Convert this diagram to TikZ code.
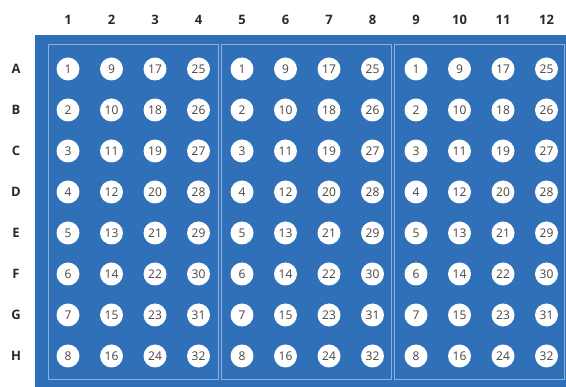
\documentclass[tikz,border=0pt]{standalone}
\usepackage{fontspec}
\setmainfont{Open Sans}

\definecolor{plateblue}{HTML}{2F70B8}
\definecolor{frameline}{HTML}{8DB0DC}
\definecolor{labeltext}{HTML}{2A2A2A}
\definecolor{welltext}{HTML}{444444}

\begin{document}
\begin{tikzpicture}[x=1pt,y=-1pt,
    well/.style={circle,fill=white,minimum size=23pt,inner sep=0pt,
        text=welltext,font=\fontsize{12}{12}\selectfont},
    heading/.style={text=labeltext,font=\fontsize{13}{13}\selectfont\bfseries}]

\useasboundingbox (0,0) rectangle (566,387);

% Plate
\fill[plateblue] (35,35) rectangle (566,387);

% Group frames
\foreach \xl in {48,221,394}
    \draw[frameline,line width=1pt] (\xl,45) rectangle ++(170,335);

% Column headings
\foreach \c in {1,...,12}
    \node[heading] (col\c) at ({68+43.5*(\c-1)},20) {\c};

% Row headings
\foreach \r/\name in {1/A,2/B,3/C,4/D,5/E,6/F,7/G,8/H}
    \node[heading] (row\name) at (16,{69+41*(\r-1)}) {\name};

% Wells
\foreach \c in {1,...,12}
    \foreach \r in {1,...,8}{
        \pgfmathtruncatemacro\n{8*mod(\c-1,4)+\r}
        \node[well] (well\c-\r) at ({68+43.5*(\c-1)},{69+41*(\r-1)}) {\n};
    }

\end{tikzpicture}
\end{document}
